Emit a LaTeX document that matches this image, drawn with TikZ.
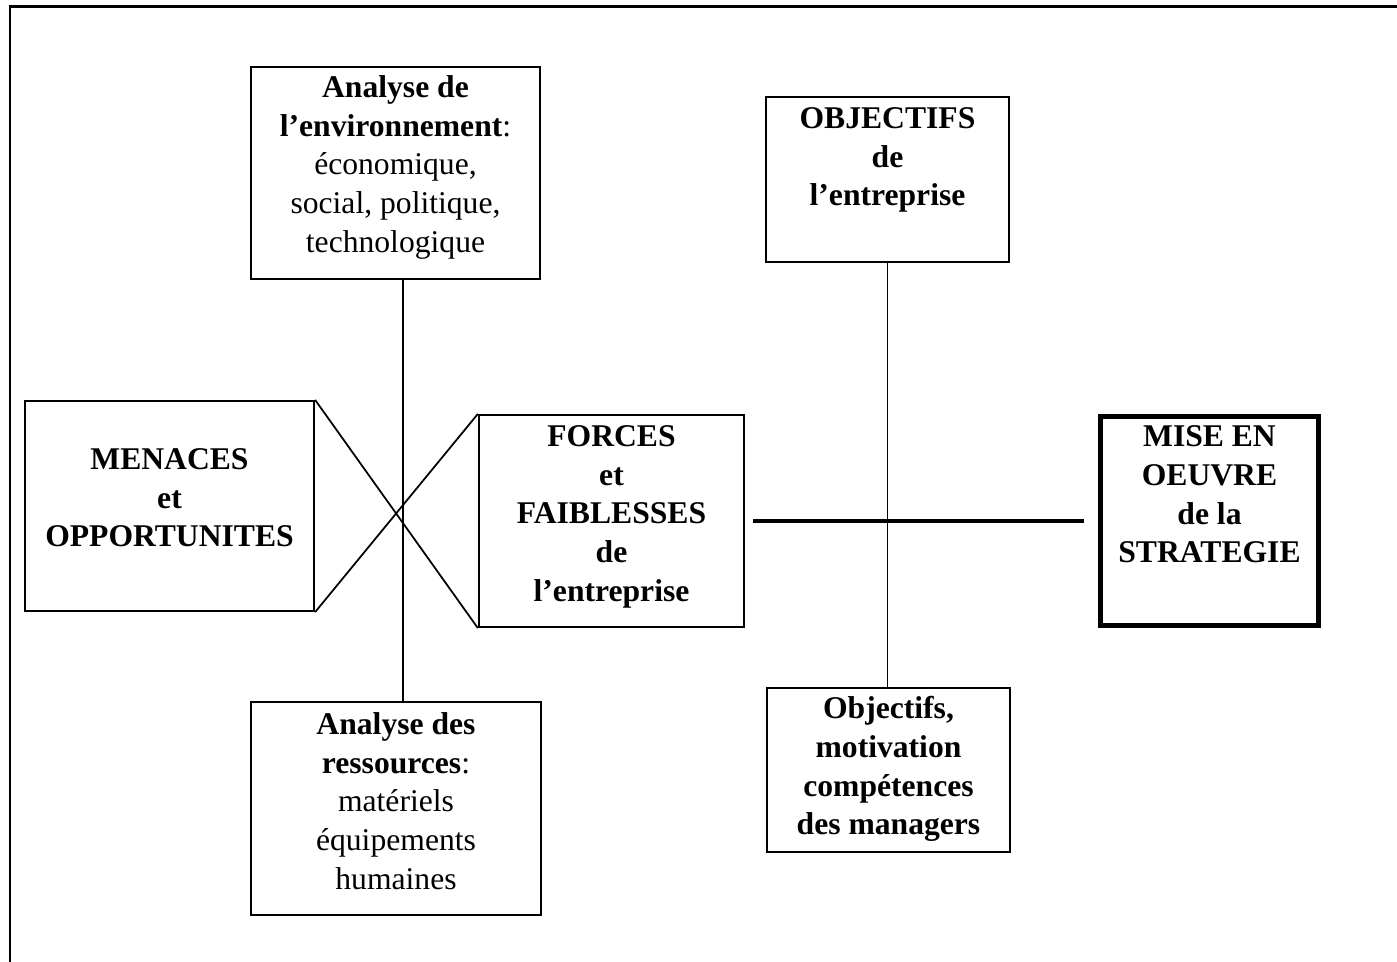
\documentclass[tikz,border=0pt]{standalone}
\usepackage{fontspec}
\setmainfont{Liberation Serif}
\usetikzlibrary{positioning}
\begin{document}
\begin{tikzpicture}[x=0.02cm,y=-0.02cm,
  box/.style={draw,line width=1.3pt,inner sep=0pt},
  txt/.style={align=center,inner sep=0pt,font=\fontsize{18}{22}\selectfont},
  btxt/.style={txt,font=\fontsize{18}{22}\selectfont\bfseries},
  link/.style={line width=1pt}]
  \useasboundingbox (0,0) rectangle (1397,962);
  \draw[line width=1.7pt] (10,962) -- (10,7) -- (1397,7);

  \node[box,minimum width=5.78cm,minimum height=4.24cm] (env) at (395.5,173) {};
  \node[box,minimum width=5.80cm,minimum height=4.26cm] (res) at (396,808.5) {};
  \node[box,minimum width=5.78cm,minimum height=4.20cm] (men) at (169.5,506) {};
  \node[box,minimum width=5.30cm,minimum height=4.24cm] (forces) at (611.5,521) {};
  \node[box,minimum width=4.86cm,minimum height=3.30cm] (obj) at (887.5,179.5) {};
  \node[box,minimum width=4.86cm,minimum height=3.28cm] (mgr) at (888.5,770) {};
  \node[box,line width=2.8pt,minimum width=4.36cm,minimum height=4.18cm] (mise) at (1209.5,521) {};

  \node[txt,below=0.19cm of env.north] (envtxt) {\textbf{Analyse de}\\\textbf{l’environnement}:\\économique,\\social, politique,\\technologique};
  \node[txt,below=0.23cm of res.north] (restxt) {\textbf{Analyse des}\\\textbf{ressources}:\\matériels\\équipements\\humaines};
  \node[btxt,below=0.97cm of men.north] (mentxt) {MENACES\\et\\OPPORTUNITES};
  \node[btxt,below=0.23cm of forces.north] (forcestxt) {FORCES\\et\\FAIBLESSES\\de\\l’entreprise};
  \node[btxt,below=0.23cm of obj.north] (objtxt) {OBJECTIFS\\de\\l’entreprise};
  \node[btxt,below=0.19cm of mgr.north] (mgrtxt) {Objectifs,\\motivation\\compétences\\des managers};
  \node[btxt,below=0.23cm of mise.north] (misetxt) {MISE EN\\OEUVRE\\de la\\STRATEGIE};

  \draw[link] ([xshift=0.15cm]env.south) -- ([xshift=0.14cm]res.north);
  \draw[link] (obj.south) -- (mgr.north -| obj.south);
  \draw[link] (men.north east) -- (forces.south west);
  \draw[link] (men.south east) -- (forces.north west);
  \draw[line width=2.8pt,shorten <=0.16cm,shorten >=0.28cm] (forces.east) -- (mise.west);
\end{tikzpicture}
\end{document}
